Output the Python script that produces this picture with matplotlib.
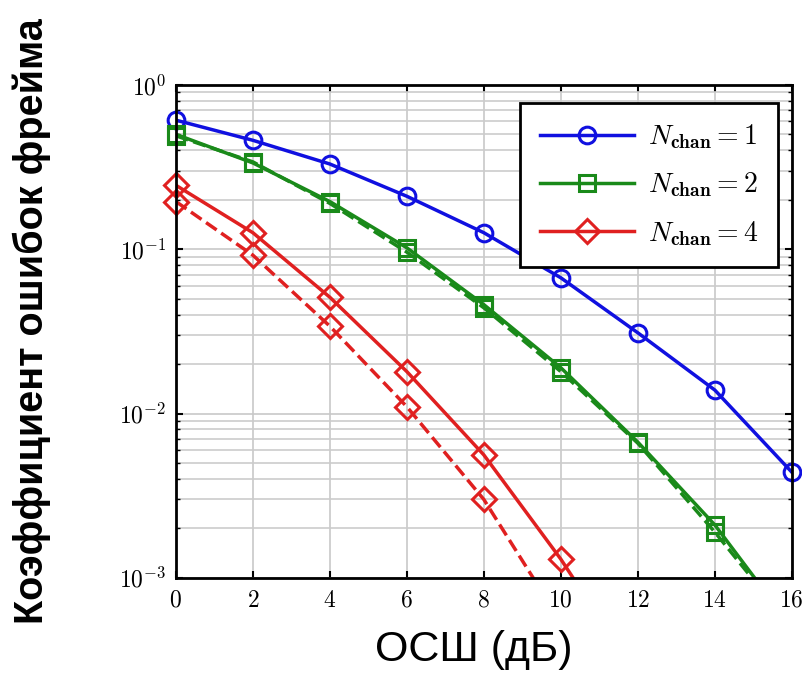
import matplotlib.pyplot as plt
from matplotlib.font_manager import FontProperties
from matplotlib.lines import Line2D
import numpy as np

snr = [0, 2, 4, 6, 8, 10, 12, 14, 16]

fer_1 = [0.61, 0.46, 0.33, 0.21, 0.126, 0.067, 0.031, 0.0139, 0.0044]
fer_2 = [0.50, 0.335, 0.195, 0.102, 0.046, 0.019, 0.0067, 0.0021, 0.0005]
fer_2_dash = [0.49, 0.34, 0.19, 0.096, 0.044, 0.018, 0.0066, 0.0019, 0.0005]
fer_4 = [0.245, 0.126, 0.051, 0.018, 0.0056, 0.0013, 0.00025, 0.00005, 0.00001]
fer_4_dash = [0.195, 0.092, 0.034, 0.011, 0.0030, 0.00054, 0.0001, 0.00002, 0.000005]

labels = [r"$N_{\mathbf{chan}} = 1$", r"$N_{\mathbf{chan}} = 2$", r"$N_{\mathbf{chan}} = 4$"]
yticks = [1e-3, 1e-2, 1e-1, 1]
ytick_labels = [r"$10^{-3}$", r"$10^{-2}$", r"$10^{-1}$", r"$10^{0}$"]

plt.rcParams['mathtext.fontset'] = 'cm'

blue = '#1010e0'
green = '#1a8a1a'
red = '#e02020'


def draw(ax, x, y, color, ls, marker):
    # line clipped to axes, markers drawn in full at the edges
    ax.plot(x, y, ls, color=color, linewidth=2.5)
    x = np.array(x)
    y = np.array(y)
    keep = y >= 1e-3
    ax.plot(x[keep], y[keep], marker, color=color, linestyle='none', markersize=12,
            markerfacecolor='none', markeredgewidth=2.2, clip_on=False)


def main():
    fig = plt.figure(figsize=(8.03, 6.79), dpi=100)
    ax = fig.add_axes([0.219, 0.149, 0.767, 0.726])

    draw(ax, snr, fer_1, blue, '-', 'o')
    draw(ax, snr, fer_2, green, '-', 's')
    draw(ax, snr, fer_2_dash, green, '--', 's')
    draw(ax, snr, fer_4, red, '-', 'D')
    draw(ax, snr, fer_4_dash, red, '--', 'D')

    ax.set_yscale('log')
    ax.set_xlim(0, 16)
    ax.set_ylim(1e-3, 1)
    ax.set_xticks(range(0, 17, 2))
    ax.set_xticklabels([r"$%d$" % v for v in range(0, 17, 2)])
    ax.set_yticks(yticks)
    ax.set_yticklabels(ytick_labels)

    ax.grid(True, which='major', color='#c8c8c8', linewidth=1.2)
    ax.grid(True, which='minor', color='#cccccc', linewidth=1.2)
    ax.tick_params(which='both', direction='in', top=True, right=True, labelsize=17)
    ax.tick_params(which='major', length=5, width=1.5, pad=7)
    ax.tick_params(which='minor', length=3, width=1)
    for s in ax.spines.values():
        s.set_linewidth(2)

    handles = []
    for color, marker in [(blue, 'o'), (green, 's'), (red, 'D')]:
        handles.append(Line2D([], [], color=color, linewidth=2.5, marker=marker, markersize=12,
                              markerfacecolor='none', markeredgewidth=2.2))
    leg = ax.legend(handles, labels, loc='upper right', fontsize=20, fancybox=False,
                    framealpha=1, edgecolor='black', handlelength=3.4, labelspacing=0.7,
                    borderpad=0.7, handletextpad=0.5, borderaxespad=0,
                    bbox_to_anchor=(0.977, 0.963))
    leg.get_frame().set_linewidth(2)

    yfont = FontProperties(family='Liberation Sans', weight='bold', size=28.5)
    fig.text(0.039, 0.527, "Коэффициент ошибок фрейма", rotation=90, ha='center',
             va='center', fontproperties=yfont)
    xfont = FontProperties(family='Liberation Sans', size=31)
    fig.text(0.59, 0.043, "ОСШ (дБ)", ha='center', va='center', fontproperties=xfont)

    fig.savefig("out.png", dpi=100)


main()
